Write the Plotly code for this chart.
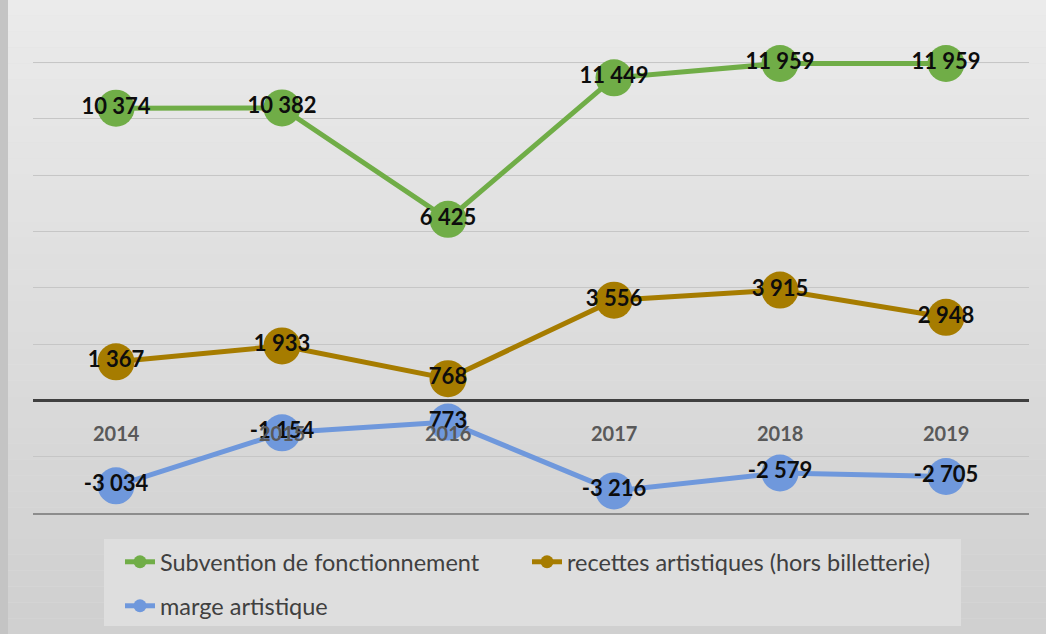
import plotly.graph_objects as go

# data
years = ["2014", "2015", "2016", "2017", "2018", "2019"]
subvention = [10374, 10382, 6425, 11449, 11959, 11959]
recettes = [1367, 1933, 768, 3556, 3915, 2948]
marge = [-3034, -1154, -773, -3216, -2579, -2705]
marge_labels = ["-3 034", "-1 154", "773", "-3 216", "-2 579", "-2 705"]

names = ["Subvention de fonctionnement", "recettes artistiques (hors billetterie)", "marge artistique"]
colors = ["#70ad47", "#a67c00", "#6f98dc"]

def fmt(v):
    return f"{v:,}".replace(",", " ")

W, H = 1046, 634
ml, mr, mt, mb = 33, 17, 6, 121
pw, ph = W - ml - mr, H - mt - mb

# page pixel -> paper coords
def px(x):
    return (x - ml) / pw

def py(y):
    return (H - mb - y) / ph

fig = go.Figure()

series = [
    (subvention, [fmt(v) for v in subvention]),
    (recettes, [fmt(v) for v in recettes]),
    (marge, marge_labels),
]
for (vals, labels), name, c in zip(series, names, colors):
    fig.add_trace(go.Scatter(
        x=years, y=vals, mode="lines+markers+text", name=name,
        text=labels, textposition="middle center",
        textfont=dict(family="Lato", size=22, color="#0d0d0d", weight="bold"),
        line=dict(color=c, width=5),
        marker=dict(color=c, size=37),
        showlegend=False, cliponaxis=False,
    ))

# legend entries with small markers
for i, (name, c) in enumerate(zip(names, colors)):
    fig.add_trace(go.Scatter(
        x=[None], y=[None], mode="lines+markers", name=name,
        line=dict(color=c, width=5), marker=dict(color=c, size=13),
        legend="legend" if i < 2 else "legend2",
    ))

# background gradient bands
shapes = []
n = 40
x0p, x1p = px(0), px(W)
y0p, y1p = py(H), py(0)
for i in range(n):
    t = i / (n - 1)
    g = int(235 - 27 * t)
    shapes.append(dict(
        type="rect", xref="paper", yref="paper", layer="below",
        x0=x0p, x1=x1p,
        y1=y1p - (y1p - y0p) * i / n, y0=y1p - (y1p - y0p) * (i + 1) / n,
        fillcolor=f"rgb({g},{g},{g})", line=dict(width=0),
    ))
shapes.append(dict(
    type="rect", xref="paper", yref="paper", layer="below",
    x0=px(0), x1=px(8), y0=y0p, y1=y1p,
    fillcolor="#c4c4c4", line=dict(width=0),
))
# legend box
shapes.append(dict(
    type="rect", xref="paper", yref="paper", layer="below",
    x0=px(104), x1=px(961), y0=py(626), y1=py(539),
    fillcolor="#dedede", line=dict(width=0),
))

annotations = [
    dict(x=i, y=0, xref="x", yref="y", text=yr, showarrow=False, yshift=-33,
         font=dict(family="Lato", size=20, color="#595959", weight="bold"))
    for i, yr in enumerate(years)
]

legend_font = dict(family="Lato", size=23.5, color="#404040")

fig.update_layout(
    width=W, height=H,
    margin=dict(l=ml, r=mr, t=mt, b=mb),
    paper_bgcolor="#e0e0e0",
    plot_bgcolor="rgba(0,0,0,0)",
    shapes=shapes,
    annotations=annotations,
    xaxis=dict(type="category", range=[-0.5, 5.5], showticklabels=False,
               showgrid=False, zeroline=False, showline=True,
               linecolor="#8c8c8c", linewidth=1.5),
    yaxis=dict(range=[-4000, 14000], dtick=2000, showticklabels=False,
               gridcolor="#c6c6c6", gridwidth=1.2,
               zeroline=True, zerolinecolor="#404040", zerolinewidth=2.5),
    legend=dict(
        orientation="h", x=px(120), xanchor="left",
        y=py(562), yanchor="middle",
        bgcolor="rgba(0,0,0,0)", borderwidth=0, font=legend_font,
        entrywidth=362, entrywidthmode="pixels", itemclick=False,
    ),
    legend2=dict(
        orientation="h", x=px(120), xanchor="left",
        y=py(606), yanchor="middle",
        bgcolor="rgba(0,0,0,0)", borderwidth=0, font=legend_font,
        itemclick=False,
    ),
)

fig.write_html("out.html", config={"displayModeBar": False},
               post_script="document.body.style.margin='0';")
